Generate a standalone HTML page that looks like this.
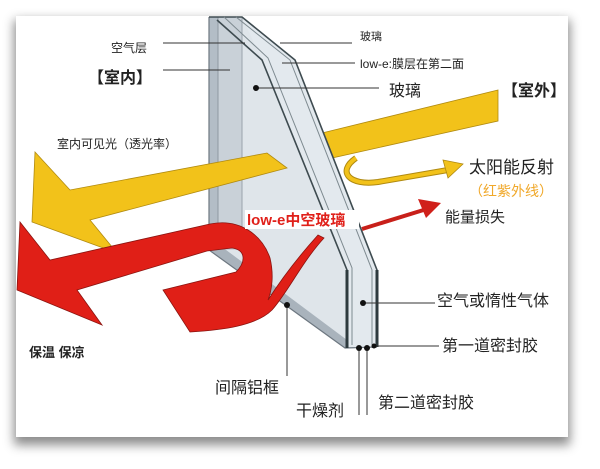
<!DOCTYPE html>
<html><head><meta charset="utf-8"><style>
html,body{margin:0;padding:0;background:#fff;}
.wrap{position:relative;width:600px;height:469px;overflow:hidden;background:#fff;}
.card{position:absolute;left:16px;top:16px;width:552px;height:421px;background:#fff;box-shadow:0 6px 10px 2px rgba(0,0,0,0.45);}
svg{position:absolute;left:0;top:0;}
text{font-family:"Liberation Sans","Noto Sans CJK SC",sans-serif;fill:#222;}
</style></head><body><div class="wrap"><div class="card"></div>
<svg width="600" height="469" viewBox="0 0 600 469">
<polygon points="322,133 498,90 498,121 332,158" fill="#f2c21a" stroke="#b08a10" stroke-width="0.8"/>
<polygon points="209,17 242,17 295,60 377,270 377,347 347,348 280,300 209,250" fill="#e3e9ee"/>
<polygon points="209,17 218,17 218,252 209,250" fill="#b3bdc6"/>
<polygon points="218,17 242,17 262,60 347,270 347,348 345,348 280,296 218,252" fill="#dfe5ea"/>
<polygon points="218,17 242,17 242,250 218,250" fill="#c9d1d8"/>
<polygon points="209,250 345,348 347,348 347,340 280,290 218,244 209,244" fill="#a9b3bc"/>
<polyline points="209,17 209,250 345,348 377,347" fill="none" stroke="#6d7780" stroke-width="1.2"/>
<polyline points="218,17 218,244" fill="none" stroke="#8f99a2" stroke-width="1"/>
<polyline points="242,17 242,250" fill="none" stroke="#9aa4ac" stroke-width="1"/>
<polyline points="209,17 242,17 295,60 377,270 377,347" fill="none" stroke="#3e4b50" stroke-width="1.6"/>
<polyline points="217,20 262,60 347,270 347,348" fill="none" stroke="#3e4b50" stroke-width="1.6"/>
<polyline points="224,17 268,58 352,268 352,345" fill="none" stroke="#7e8a90" stroke-width="1"/>
<polyline points="236,17 290,60 372,270 372,345" fill="none" stroke="#7e8a90" stroke-width="1"/>
<line x1="347" y1="270" x2="347" y2="348" stroke="#2e3a3e" stroke-width="3"/>
<line x1="377" y1="270" x2="377" y2="347" stroke="#2e3a3e" stroke-width="3"/>
<polygon points="35,152 70,190 267,153 287,168 90,220 117,253 32,222" fill="#f2c21a" stroke="#b08a10" stroke-width="0.8"/>
<path d="M356,158 C336,172 350,186 378,182 L448,170" fill="none" stroke="#b08a10" stroke-width="6"/>
<path d="M356,158 C336,172 350,186 378,182 L448,170" fill="none" stroke="#f2c21a" stroke-width="4"/>
<polygon points="443,160 463,164 448,178" fill="#f2c21a" stroke="#b08a10" stroke-width="0.8"/>
<path d="M20,222 L50,260 L210,224 C240,218 262,235 270,258 C274,275 272,290 268,300 C282,278 300,255 318,235 L324,238 C302,262 288,292 272,310 C256,326 222,330 190,332 L163,290 L236,272 C246,262 246,250 232,248 L207,251 L77,290 L102,325 L17,290 Z" fill="#e01f17" stroke="#8a1410" stroke-width="0.8"/>
<line x1="362" y1="229" x2="430" y2="208" stroke="#c8201a" stroke-width="4"/>
<polygon points="418,199 441,203 426,218" fill="#d0201a"/>
<rect x="245" y="210" width="114" height="19" fill="#fff"/>
<text x="247" y="225" font-size="15" font-weight="bold" style="fill:#e0201a">low-e中空玻璃</text>
<g stroke="#333" stroke-width="1">
<line x1="163" y1="43" x2="245" y2="43"/>
<line x1="280" y1="43" x2="352" y2="43"/>
<line x1="282" y1="63" x2="355" y2="63"/>
<line x1="163" y1="70" x2="230" y2="70"/>
<line x1="256" y1="88" x2="379" y2="88"/>
<line x1="363" y1="303" x2="435" y2="303"/>
<line x1="375" y1="346" x2="439" y2="346"/>
<line x1="287" y1="305" x2="287" y2="376"/>
<line x1="359" y1="348" x2="359" y2="415"/>
<line x1="367" y1="348" x2="367" y2="415"/>
</g>
<g fill="#111">
<circle cx="256" cy="88" r="3"/><circle cx="363" cy="303" r="3"/><circle cx="287" cy="305" r="3"/>
<circle cx="359" cy="348" r="3"/><circle cx="367" cy="348" r="3"/><circle cx="374" cy="346" r="2.5"/>
</g>
<text x="111" y="52" font-size="12">空气层</text>
<text x="360" y="40" font-size="11">玻璃</text>
<text x="360" y="68" font-size="12">low-e:膜层在第二面</text>
<text x="88" y="83" font-size="16" font-weight="bold">【室内】</text>
<text x="389" y="96" font-size="16">玻璃</text>
<text x="502" y="96" font-size="16" font-weight="bold">【室外】</text>
<text x="57" y="148" font-size="12">室内可见光（透光率）</text>
<text x="469" y="173" font-size="17">太阳能反射</text>
<text x="469" y="196" font-size="14" style="fill:#f0a82a">（红紫外线）</text>
<text x="445" y="222" font-size="15">能量损失</text>
<text x="437" y="306" font-size="16">空气或惰性气体</text>
<text x="442" y="351" font-size="16">第一道密封胶</text>
<text x="29" y="357" font-size="13" font-weight="bold">保温 保凉</text>
<text x="215" y="393" font-size="16">间隔铝框</text>
<text x="296" y="416" font-size="16">干燥剂</text>
<text x="378" y="408" font-size="16">第二道密封胶</text>
</svg></div></body></html>
